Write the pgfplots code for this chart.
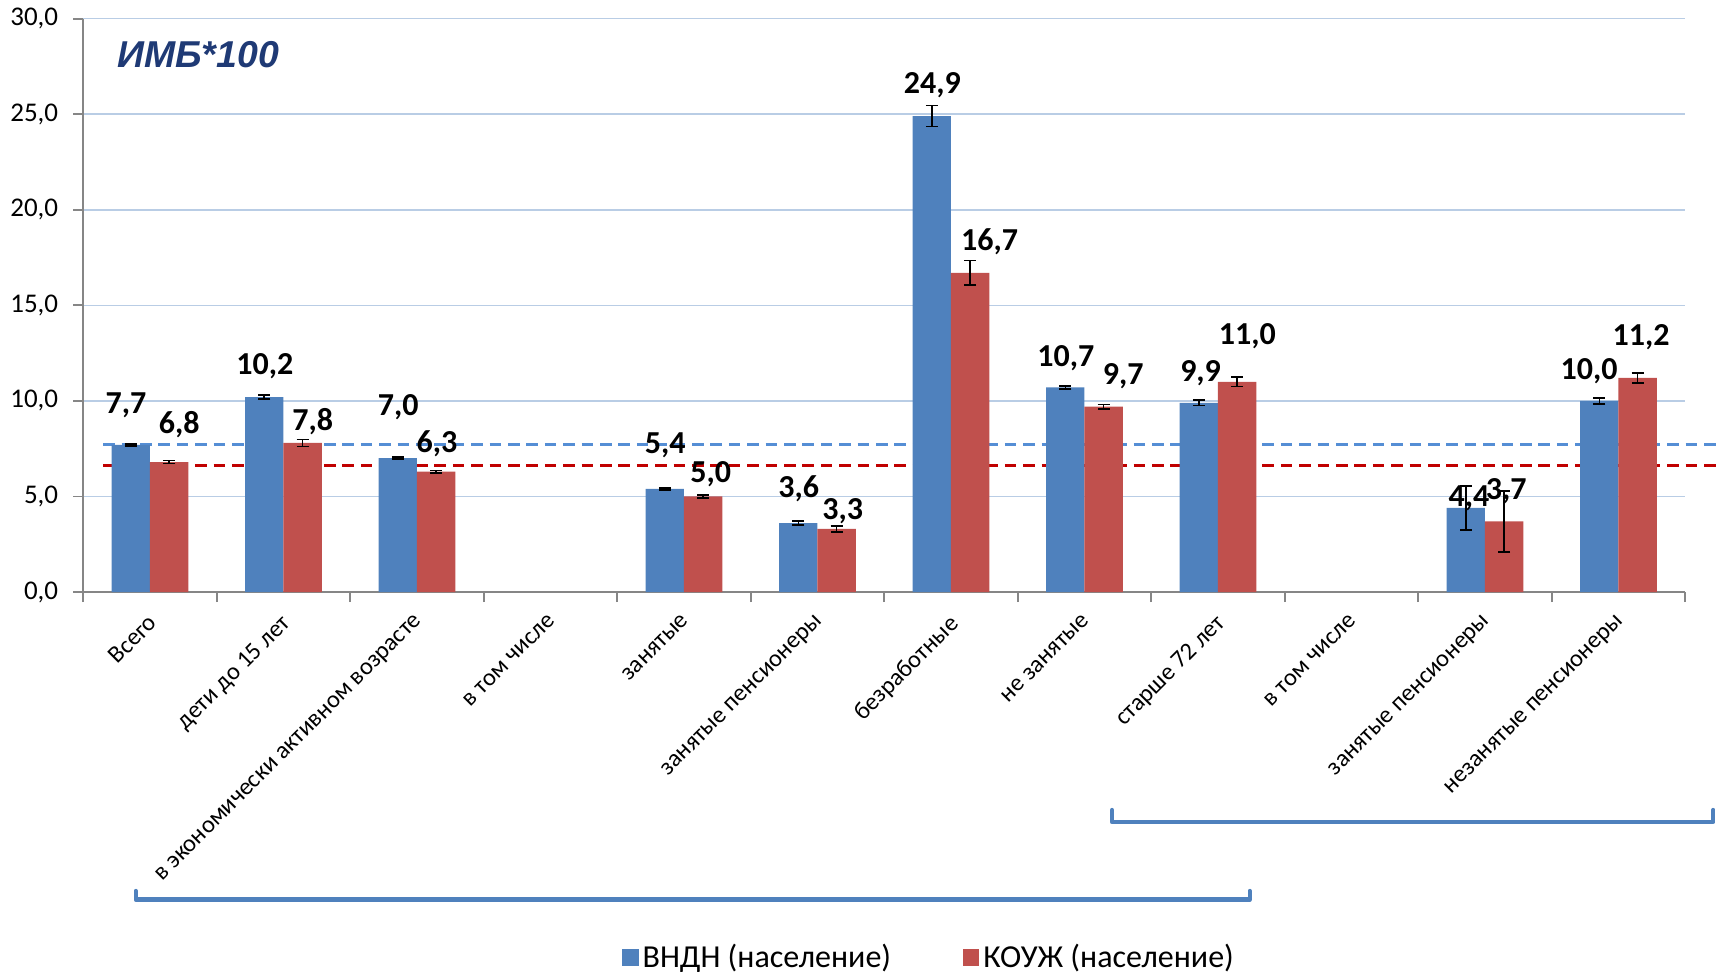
\documentclass[border=0pt]{standalone}
\usepackage{pgfplots}
\pgfplotsset{compat=1.18}
\usepackage{pgfplotstable}
\usepackage{fontspec}
\setmainfont{Carlito}
\newfontfamily\titlefont{Liberation Sans}
\definecolor{cblue}{HTML}{4F81BD}
\definecolor{cred}{HTML}{C0504D}
\definecolor{dred}{HTML}{C00000}
\definecolor{dblue}{HTML}{558ED5}
\definecolor{gridblue}{HTML}{B9CDE5}
\definecolor{axisgray}{HTML}{868686}
\definecolor{titleblue}{HTML}{1F3A75}

\pgfplotstableread{
x y e
0 7.7 0.05
1 10.2 0.1
2 7.0 0.05
4 5.4 0.05
5 3.6 0.1
6 24.9 0.55
7 10.7 0.08
8 9.9 0.15
10 4.4 1.15
11 10.0 0.15
}\blue
\pgfplotstableread{
x y e
0 6.8 0.07
1 7.8 0.18
2 6.3 0.06
4 5.0 0.07
5 3.3 0.15
6 16.7 0.65
7 9.7 0.12
8 11.0 0.25
10 3.7 1.6
11 11.2 0.25
}\red
\pgfplotstableread{
x y l
-0.18 9.79 7,7
0.86 11.79 10,2
1.86 9.67 7,0
3.86 7.67 5,4
4.86 5.38 3,6
5.86 26.5 24,9
6.86 12.25 10,7
7.87 11.45 9,9
9.88 4.92 4,4
10.78 11.56 10,0
}\bluelab
\pgfplotstableread{
x y l
0.22 8.76 6,8
1.22 8.93 7,8
2.15 7.78 6,3
4.20 6.18 5,0
5.19 4.24 3,3
6.29 18.32 16,7
7.29 11.28 9,7
8.22 13.39 11,0
10.16 5.27 3,7
11.17 13.34 11,2
}\redlab

\begin{document}
\begin{tikzpicture}
\useasboundingbox (-41.6pt,-191.5pt) rectangle (816.4pt,296pt);
\begin{axis}[
  at={(0,0)}, anchor=south west,
  width=801pt, height=286.7pt, scale only axis,
  xmin=-0.5, xmax=11.5, ymin=0, ymax=30,
  clip=false,
  axis x line*=bottom, axis y line*=left,
  axis line style={draw=axisgray, line width=0.9pt},
  ytick={0,5,...,30},
  ymajorgrids, grid style={draw=gridblue, line width=0.8pt},
  tick align=outside, major tick length=5pt,
  tick style={draw=axisgray, line width=0.9pt},
  xtick={-0.5,0.5,...,11.5}, xticklabels={},
  extra x ticks={0,1,...,11},
  extra x tick labels={Всего,дети до 15 лет,в экономически активном возрасте,в том числе,занятые,занятые пенсионеры,безработные,не занятые,старше 72 лет,в том числе,занятые пенсионеры,незанятые пенсионеры},
  extra x tick style={major tick length=0pt, xticklabel style={xshift=-1.5pt, yshift=-5.7pt, rotate=45, anchor=north east, font=\fontsize{12.2}{14}\selectfont}},
  yticklabel style={xshift=-4pt, font=\fontsize{13.5}{15}\selectfont, /pgf/number format/.cd, fixed, fixed zerofill, precision=1, use comma, assume math mode=true},
  legend style={at={(0.5286,-0.6376)}, anchor=center, draw=none, fill=none, legend columns=2, font=\fontsize{16}{18}\selectfont, /tikz/every even column/.append style={column sep=34pt}},
  legend image code/.code={\fill[#1] (0pt,-4.1pt) rectangle (8.2pt,4.1pt);},
]
\addplot[dblue, line width=1.5pt, dash pattern=on 5.8pt off 3.4pt, forget plot] coordinates {(-0.35,7.7) (11.73,7.7)};
\addplot[dred, line width=1.5pt, dash pattern=on 5.8pt off 3.4pt, forget plot] coordinates {(-0.35,6.6) (11.73,6.6)};
\addplot[ybar, bar width=0.287, bar shift=0, fill=cblue, draw=none,
  error bars/.cd, y dir=both, y explicit,
  error bar style={black, line width=0.8pt},
  error mark options={rotate=90, mark size=3pt, black, line width=0.8pt}]
  table[x expr=\thisrow{x}-0.1435, y=y, y error=e] {\blue};
\addlegendentry{ВНДН (население)}
\addplot[ybar, bar width=0.287, bar shift=0, fill=cred, draw=none,
  error bars/.cd, y dir=both, y explicit,
  error bar style={black, line width=0.8pt},
  error mark options={rotate=90, mark size=3pt, black, line width=0.8pt}]
  table[x expr=\thisrow{x}+0.1435, y=y, y error=e] {\red};
\addlegendentry{КОУЖ (население)}
\addplot[draw=none, mark=none, forget plot, nodes near coords, point meta=explicit symbolic,
  every node near coord/.append style={anchor=center, font=\bfseries\fontsize{16}{18}\selectfont, text=black}]
  table[x=x, y=y, meta=l] {\bluelab};
\addplot[draw=none, mark=none, forget plot, nodes near coords, point meta=explicit symbolic,
  every node near coord/.append style={anchor=center, font=\bfseries\fontsize{16}{18}\selectfont, text=black}]
  table[x=x, y=y, meta=l] {\redlab};
\end{axis}
\node[anchor=west, inner sep=0pt, text=titleblue, font=\titlefont\bfseries\itshape\fontsize{18.7}{20}\selectfont] at (16.9pt,268.5pt) {ИМБ*100};
\draw[cblue, line width=2.2pt, line cap=round, line join=round] (26.25pt,-149.5pt) -- (26.25pt,-153.8pt) -- (583.3pt,-153.8pt) -- (583.3pt,-149.5pt);
\draw[cblue, line width=2.2pt, line cap=round, line join=round] (514.4pt,-109pt) -- (514.4pt,-115pt) -- (815pt,-115pt) -- (815pt,-109pt);
\end{tikzpicture}
\end{document}
